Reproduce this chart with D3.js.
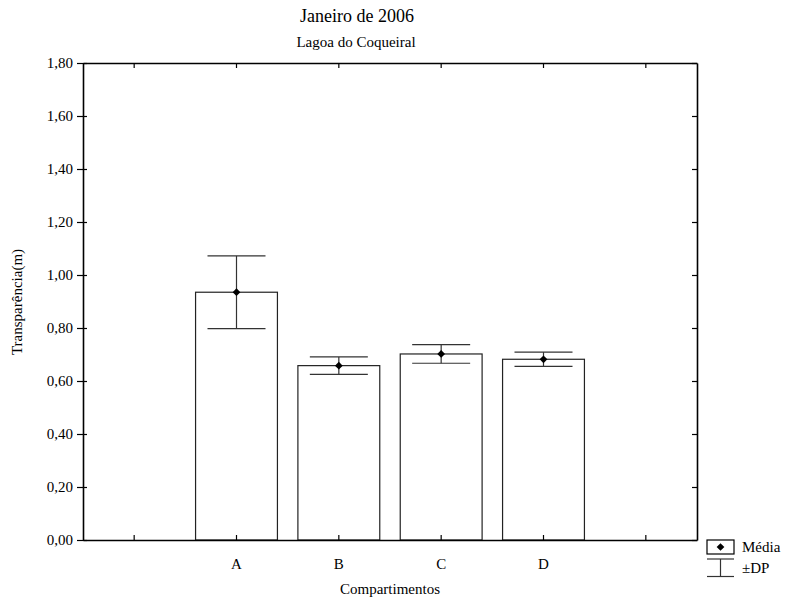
<html>
<head>
<script src="https://d3js.org/d3.v7.min.js"></script>
<style>
  body { margin: 0; background: #fff; }
  svg text { font-family: "Liberation Serif", "DejaVu Serif", "Noto Serif", serif; fill: #000; }
</style>
</head>
<body>
<svg id="chart" width="788" height="602"></svg>
<script>
// data
const slots = ["_l", "A", "B", "C", "D", "_r"];
const categories = ["A", "B", "C", "D"];
const means = [0.935, 0.658, 0.702, 0.682];
const sds = [0.137, 0.033, 0.035, 0.027];
const yTicks = [0, 0.2, 0.4, 0.6, 0.8, 1.0, 1.2, 1.4, 1.6, 1.8];

const serif = "Liberation Serif, DejaVu Serif, serif";
const svg = d3.select("#chart");
const margin = { top: 63, right: 91, bottom: 62, left: 83 };
const width = 788 - margin.left - margin.right;
const height = 602 - margin.top - margin.bottom;

const x = d3.scaleBand().domain(slots).range([0, width]).paddingInner(0.2).paddingOuter(0.1);
const xc = d => x(d) + x.bandwidth() / 2;
const y = d3.scaleLinear().domain([0, 1.8]).range([height, 0]);
const fmt = d => d3.format(".2f")(d).replace(".", ",");

const g = svg.append("g").attr("transform", `translate(${margin.left},${margin.top})`);

// bars
const data = categories.map((c, i) => ({ c, m: means[i], s: sds[i] }));
g.selectAll("rect.bar").data(data).join("rect")
  .attr("class", "bar")
  .attr("x", d => x(d.c)).attr("width", x.bandwidth())
  .attr("y", d => y(d.m)).attr("height", d => height - y(d.m))
  .attr("fill", "#fff").attr("stroke", "#222").attr("stroke-width", 1.2);

// error bars
const capW = 29;
const err = g.selectAll("g.err").data(data).join("g").attr("class", "err");
err.append("line").attr("x1", d => xc(d.c)).attr("x2", d => xc(d.c))
  .attr("y1", d => y(d.m + d.s)).attr("y2", d => y(d.m - d.s));
err.append("line").attr("x1", d => xc(d.c) - capW).attr("x2", d => xc(d.c) + capW)
  .attr("y1", d => y(d.m + d.s)).attr("y2", d => y(d.m + d.s));
err.append("line").attr("x1", d => xc(d.c) - capW).attr("x2", d => xc(d.c) + capW)
  .attr("y1", d => y(d.m - d.s)).attr("y2", d => y(d.m - d.s));
err.selectAll("line").attr("stroke", "#333").attr("stroke-width", 1.2);

// diamond = rotated square
const diamond = d3.symbol().type(d3.symbolSquare).size(30);
g.selectAll("path.mean").data(data).join("path")
  .attr("class", "mean")
  .attr("d", diamond)
  .attr("transform", d => `translate(${xc(d.c)},${y(d.m)}) rotate(45)`)
  .attr("fill", "#000");

// axes
const leftAxis = g.append("g").call(d3.axisLeft(y).tickValues(yTicks).tickFormat(fmt).tickSize(6).tickSizeOuter(0));
leftAxis.selectAll("text").attr("font-size", 15).attr("dx", "-1");
leftAxis.selectAll(".tick line").clone().attr("x2", 4);
const bottomAxis = g.append("g").attr("transform", `translate(0,${height})`)
  .call(d3.axisBottom(x).tickSize(-5).tickSizeOuter(0).tickFormat(d => d.startsWith("_") ? "" : d));
bottomAxis.selectAll("text").attr("font-size", 15).attr("dy", "1.75em");
const topAxis = g.append("g").call(d3.axisTop(x).tickSize(-5).tickSizeOuter(0).tickFormat(""));
const rightAxis = g.append("g").attr("transform", `translate(${width},0)`)
  .call(d3.axisRight(y).tickValues(yTicks).tickSize(-5).tickSizeOuter(0).tickFormat(""));
[leftAxis, bottomAxis, topAxis, rightAxis].forEach(a => {
  a.attr("font-family", serif);
  a.select(".domain").attr("stroke", "#000").attr("stroke-width", 1.6);
  a.selectAll(".tick line").attr("stroke", "#000").attr("stroke-width", 1.2);
});

// titles
svg.append("text").attr("x", 357).attr("y", 22).attr("text-anchor", "middle")
  .attr("font-family", serif).attr("font-size", 18).text("Janeiro de 2006");
svg.append("text").attr("x", 356).attr("y", 47).attr("text-anchor", "middle")
  .attr("font-family", serif).attr("font-size", 15).text("Lagoa do Coqueiral");
svg.append("text").attr("x", 390).attr("y", 594).attr("text-anchor", "middle")
  .attr("font-family", serif).attr("font-size", 15).text("Compartimentos");
svg.append("text").attr("transform", "translate(22,302) rotate(-90)").attr("text-anchor", "middle")
  .attr("font-family", serif).attr("font-size", 15).text("Transparência(m)");

// legend
const lg = svg.append("g").attr("transform", "translate(707,540)");
lg.append("rect").attr("x", 0).attr("y", 0).attr("width", 27).attr("height", 14)
  .attr("fill", "#fff").attr("stroke", "#000").attr("stroke-width", 1.2);
lg.append("path").attr("d", diamond).attr("transform", "translate(13.5,7) rotate(45)").attr("fill", "#000");
lg.append("text").attr("x", 35).attr("y", 12).attr("font-family", serif).attr("font-size", 15).text("Média");
lg.append("line").attr("x1", 0).attr("x2", 27).attr("y1", 19).attr("y2", 19);
lg.append("line").attr("x1", 0).attr("x2", 27).attr("y1", 36.5).attr("y2", 36.5);
lg.append("line").attr("x1", 13.5).attr("x2", 13.5).attr("y1", 19).attr("y2", 36.5);
lg.selectAll("line").attr("stroke", "#333").attr("stroke-width", 1.2);
lg.append("text").attr("x", 35).attr("y", 33).attr("font-family", serif).attr("font-size", 15).text("±DP");
</script>
</body>
</html>
